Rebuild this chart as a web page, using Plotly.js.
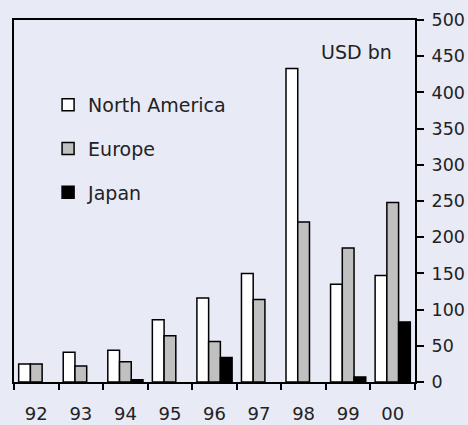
<!DOCTYPE html>
<html>
<head>
<meta charset="utf-8">
<script src="https://cdn.plot.ly/plotly-3.0.1.min.js"></script>
<style>html,body{margin:0;padding:0;background:#e8eaf6;}#chart{width:468px;height:425px;}</style>
</head>
<body>
<div id="chart"></div>
<script>
const years = ['92','93','94','95','96','97','98','99','00'];
const northAmerica = [25, 41, 44, 86, 116, 150, 433, 135, 147];
const europe = [25, 22, 28, 64, 56, 114, 221, 185, 248];
const japan = [null, null, 3, null, 34, null, null, 7, 83];
const yTicks = [0, 50, 100, 150, 200, 250, 300, 350, 400, 450, 500];

const FONT = 'DejaVu Sans, Liberation Sans, Arial, sans-serif';
const TXT = '#222222';
const BG = '#e8eaf6';

function bar(name, y, color, grp) {
  return {
    type: 'bar', name: name, x: years, y: y, legendgroup: grp,
    marker: {color: color, line: {color: '#000000', width: 1.5}},
    hoverinfo: 'skip'
  };
}

const data = [
  bar('North America', northAmerica, '#ffffff', 'a'),
  bar('Europe', europe, '#c0c0c0', 'b'),
  bar('Japan', japan, '#000000', 'c')
];

const layout = {
  width: 468, height: 425,
  margin: {l: 14, r: 52.5, t: 20, b: 42.5},
  paper_bgcolor: BG, plot_bgcolor: BG,
  font: {family: FONT, size: 18, color: TXT},
  barmode: 'group', bargap: 0.21, bargroupgap: 0,
  showlegend: true,
  legend: {
    x: 0.085, y: 0.818, xanchor: 'left', yanchor: 'top',
    bgcolor: 'rgba(0,0,0,0)', borderwidth: 0,
    font: {family: FONT, size: 19, color: TXT},
    traceorder: 'grouped', tracegroupgap: 16,
    itemclick: false, itemdoubleclick: false
  },
  xaxis: {
    type: 'category', categoryorder: 'array', categoryarray: years,
    showline: true, linecolor: '#000', linewidth: 2, mirror: true,
    ticks: 'outside', tickson: 'boundaries', ticklen: 6, tickwidth: 2, tickcolor: '#000',
    ticklabelstandoff: 14,
    showgrid: false, zeroline: false, fixedrange: true,
    tickfont: {family: FONT, size: 18, color: TXT}
  },
  yaxis: {
    side: 'right', range: [0, 500], tickmode: 'array', tickvals: yTicks,
    showline: true, linecolor: '#000', linewidth: 2, mirror: true,
    ticks: 'outside', ticklen: 7, tickwidth: 2, tickcolor: '#000',
    ticklabelstandoff: 4,
    showgrid: false, zeroline: false, fixedrange: true,
    tickfont: {family: FONT, size: 17.5, color: TXT}
  },
  annotations: [{
    text: 'USD bn', xref: 'paper', yref: 'paper', x: 0.948, y: 0.9126,
    xanchor: 'right', yanchor: 'middle', showarrow: false,
    font: {family: FONT, size: 19, color: TXT}
  }]
};

Plotly.newPlot('chart', data, layout, {displayModeBar: false, staticPlot: true});
</script>
</body>
</html>
